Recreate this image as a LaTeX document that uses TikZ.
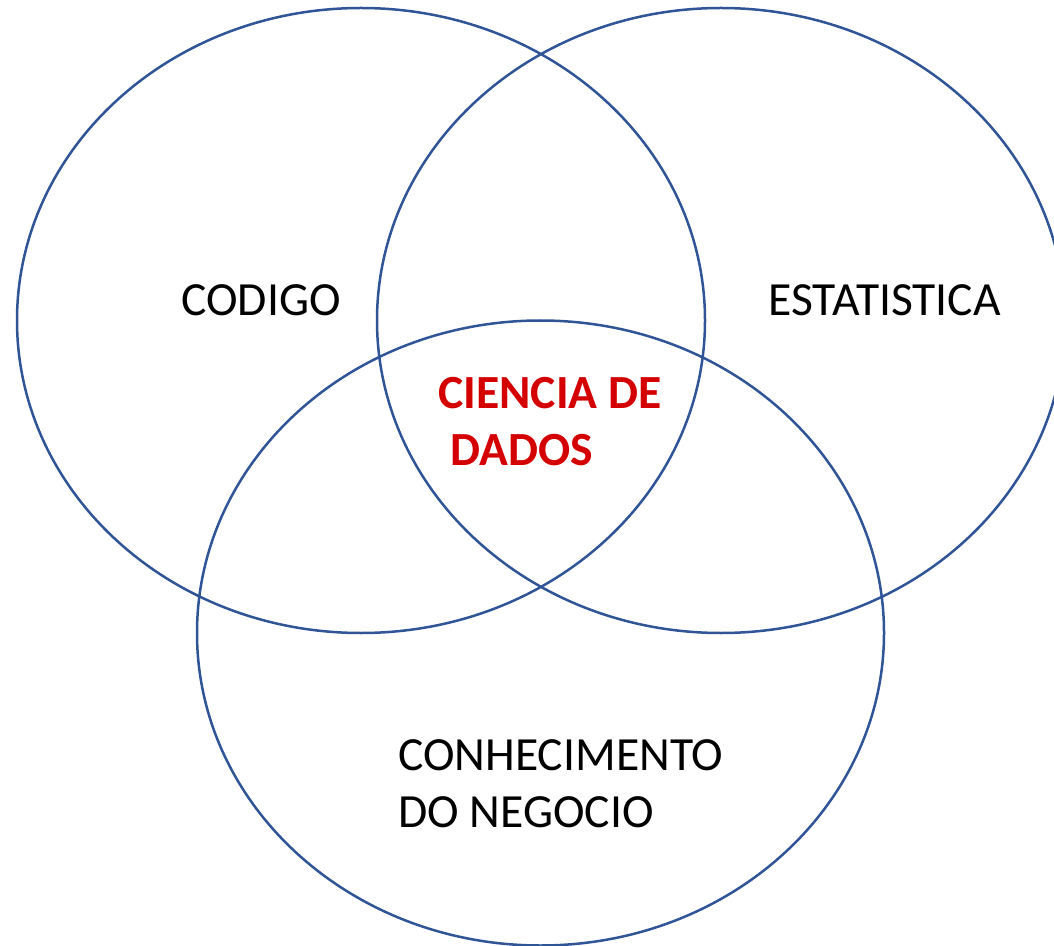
\documentclass[tikz,border=0pt]{standalone}
\usepackage{fontspec}
\setmainfont{Carlito}
\usepackage{tikz}
\usepackage{xcolor}
\usetikzlibrary{positioning}
\definecolor{ring}{HTML}{2F5597}
\definecolor{core}{HTML}{D40000}

\begin{document}
\begin{tikzpicture}[x=0.5pt,y=-0.5pt,
  area/.style={draw=ring,line width=1.25pt},
  lbl/.style={anchor=base west,inner sep=0pt,align=left,font=\fontsize{23.8}{28.5}\selectfont}]
\useasboundingbox (0,0) rectangle (1054,946);
\draw[area] (361,320.5) ellipse [x radius=344,y radius=312.5];
\draw[area] (721,320.5) ellipse [x radius=344,y radius=312.5];
\draw[area] (540.5,633) ellipse [x radius=343.5,y radius=312.5];

\node[lbl] (codigo) at (181,316) {CODIGO};
\node[lbl] (estat) at (768,316) {ESTATISTICA};
\node[lbl,text=core,font=\fontsize{23.8}{28.5}\selectfont\bfseries] (ciencia) at (438,466) {CIENCIA DE\\\hspace{6pt}DADOS};
\node[lbl] (negocio) at (398,827) {CONHECIMENTO\\DO NEGOCIO};
\end{tikzpicture}
\end{document}
